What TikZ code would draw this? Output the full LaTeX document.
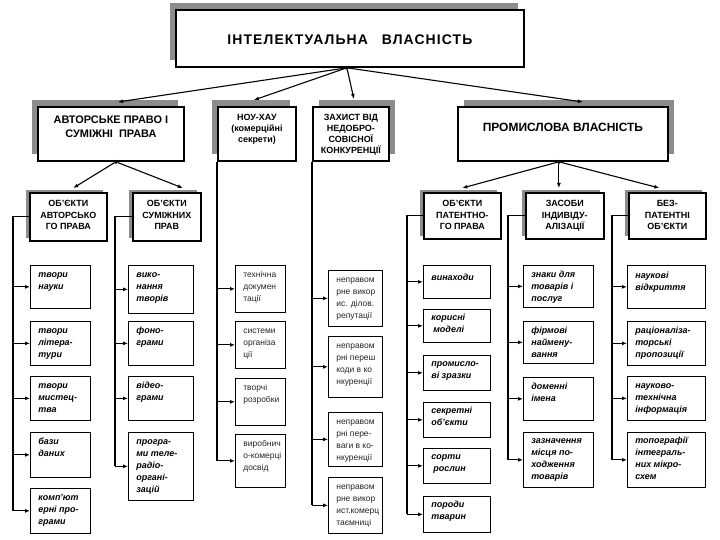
\documentclass[tikz,border=0pt]{standalone}
\usepackage{fontspec}
\setmainfont{Liberation Sans}
\newfontfamily\spacedfont[LetterSpace=8]{Liberation Sans}
\usepackage{tikz}
\usetikzlibrary{positioning,arrows.meta,calc,shadows}
\newcommand{\ctext}[4]{\parbox[t][#2][t]{#1}{\centering\vspace*{#3}\strut#4}}
\newcommand{\ltext}[4]{\parbox[t][#2][t]{#1}{\raggedright\leftskip=8bp\hyphenpenalty=10000\vspace*{#3}\strut#4}}

\begin{document}
\begin{tikzpicture}[x=1bp,y=-1bp,
    every node/.style={inner sep=0pt},
    lshadow/.style={drop shadow={shadow xshift=-6bp,shadow yshift=7bp,fill=black!45,opacity=1}},
    rshadow/.style={drop shadow={shadow xshift=6bp,shadow yshift=7bp,fill=black!45,opacity=1}},
    mainbox/.style={draw, line width=1.8bp, fill=white, anchor=north west,
                    font=\spacedfont\bfseries\fontsize{14}{16}\selectfont, lshadow},
    headbox/.style={draw, line width=1.8bp, fill=white, anchor=north west,
                    font=\bfseries\fontsize{11}{14}\selectfont},
    smallhead/.style={font=\bfseries\fontsize{9}{11}\selectfont},
    subbox/.style={draw, line width=1.6bp, fill=white, anchor=north west,
                   font=\bfseries\fontsize{9}{11.5}\selectfont,
                   drop shadow={shadow xshift=-4bp,shadow yshift=3bp,fill=black!45,opacity=1}},
    leafbf/.style={draw, line width=0.7bp, fill=white, anchor=north west,
                   font=\bfseries\itshape\fontsize{9}{12}\selectfont},
    leafrm/.style={draw, line width=0.7bp, fill=white, anchor=north west,
                   font=\fontsize{8.5}{12}\selectfont, text=black!85},
    junction/.style={circle, fill=black, inner sep=0pt, minimum size=4bp},
    bus/.style={line width=1.2bp},
    arr/.style={-{Latex[length=5bp,width=4bp]}, line width=1.1bp}]
  \useasboundingbox (0,0) rectangle (720,540);
  \node[mainbox] (top) at (175,9) {\ctext{348bp}{57bp}{23bp}{ІНТЕЛЕКТУАЛЬНА\hspace{14bp}ВЛАСНІСТЬ}};
  \node[headbox, lshadow] (auth) at (37,106) {\ctext{146bp}{54bp}{7bp}{АВТОРСЬКЕ ПРАВО І\\СУМІЖНІ \ ПРАВА}};
  \node[headbox, smallhead, lshadow] (know) at (217,106) {\ctext{78bp}{54bp}{6bp}{НОУ-ХАУ\\(комерційні\\секрети)}};
  \node[headbox, smallhead, rshadow] (fair) at (312,106) {\ctext{76bp}{54bp}{6bp}{ЗАХИСТ ВІД\\НЕДОБРО-\\СОВІСНОЇ\\КОНКУРЕНЦІЇ}};
  \node[headbox, rshadow, font=\bfseries\fontsize{12}{14}\selectfont] (ind) at (457,106) {\ctext{210bp}{54bp}{15bp}{ПРОМИСЛОВА ВЛАСНІСТЬ}};
  \node[subbox] (aobj) at (29,192) {\ctext{77bp}{48bp}{6bp}{ОБ’ЄКТИ\\АВТОРСЬКО\\ГО ПРАВА}};
  \node[subbox] (robj) at (132,192) {\ctext{68bp}{48bp}{6bp}{ОБ’ЄКТИ\\СУМІЖНИХ\\ПРАВ}};
  \node[subbox] (pobj) at (423,192) {\ctext{77bp}{46bp}{6bp}{ОБ’ЄКТИ\\ПАТЕНТНО-\\ГО ПРАВА}};
  \node[subbox] (means) at (525,192) {\ctext{78bp}{46bp}{6bp}{ЗАСОБИ\\ІНДИВІДУ-\\АЛІЗАЦІЇ}};
  \node[subbox] (npobj) at (628,192) {\ctext{77bp}{46bp}{6bp}{БЕЗ-\\ПАТЕНТНІ\\ОБ’ЄКТИ}};
  \node[leafbf] (a1) at (30,265) {\ltext{60bp}{43bp}{4bp}{твори\\науки}};
  \node[leafbf] (a2) at (30,321) {\ltext{60bp}{44bp}{4bp}{твори\\літера-\\тури}};
  \node[leafbf] (a3) at (30,376) {\ltext{60bp}{44bp}{4bp}{твори\\мистец-\\тва}};
  \node[leafbf] (a4) at (30,432) {\ltext{60bp}{45bp}{4bp}{бази\\даних}};
  \node[leafbf] (a5) at (30,488) {\ltext{60bp}{45bp}{4bp}{комп’ют\\ерні про-\\грами}};
  \node[leafbf] (b1) at (128,265) {\ltext{65bp}{48bp}{4bp}{вико-\\нання\\творів}};
  \node[leafbf] (b2) at (128,321) {\ltext{65bp}{44bp}{4bp}{фоно-\\грами}};
  \node[leafbf] (b3) at (128,376) {\ltext{65bp}{44bp}{4bp}{відео-\\грами}};
  \node[leafbf] (b4) at (128,432) {\ltext{65bp}{68bp}{4bp}{програ-\\ми теле-\\радіо-\\органі-\\зацій}};
  \node[leafrm] (k1) at (235,265) {\ltext{50bp}{47bp}{4bp}{технічна\\докумен\\тації}};
  \node[leafrm] (k2) at (235,321) {\ltext{50bp}{47bp}{4bp}{системи\\організа\\ції}};
  \node[leafrm] (k3) at (235,378) {\ltext{50bp}{47bp}{4bp}{творчі\\розробки}};
  \node[leafrm] (k4) at (235,434) {\ltext{50bp}{53bp}{4bp}{виробнич\\о-комерці\\досвід}};
  \node[leafrm] (f1) at (328,270) {\ltext{54bp}{56bp}{4bp}{неправом\\рне викор\\ис. ділов.\\репутації}};
  \node[leafrm] (f2) at (328,336) {\ltext{54bp}{61bp}{4bp}{неправом\\рні переш\\коди в ко\\нкуренції}};
  \node[leafrm] (f3) at (328,412) {\ltext{54bp}{54bp}{4bp}{неправом\\рні пере-\\ваги в ко-\\нкуренції}};
  \node[leafrm] (f4) at (328,477) {\ltext{54bp}{56bp}{4bp}{неправом\\рне викор\\ист.комерц\\таємниці}};
  \node[leafbf] (p1) at (423,265) {\ltext{67bp}{33bp}{7bp}{винаходи}};
  \node[leafbf] (p2) at (423,309) {\ltext{67bp}{33bp}{3bp}{корисні\\\hspace*{2bp}моделі}};
  \node[leafbf] (p3) at (423,355) {\ltext{67bp}{35bp}{3bp}{промисло-\\ві зразки}};
  \node[leafbf] (p4) at (423,402) {\ltext{67bp}{35bp}{3bp}{секретні\\об’єкти}};
  \node[leafbf] (p5) at (423,448) {\ltext{67bp}{35bp}{3bp}{сорти\\\hspace*{2bp}рослин}};
  \node[leafbf] (p6) at (423,496) {\ltext{67bp}{36bp}{3bp}{породи\\тварин}};
  \node[leafbf] (m1) at (523,265) {\ltext{70bp}{42bp}{4bp}{знаки для\\товарів і\\послуг}};
  \node[leafbf] (m2) at (523,321) {\ltext{70bp}{42bp}{4bp}{фірмові\\наймену-\\вання}};
  \node[leafbf] (m3) at (523,377) {\ltext{70bp}{43bp}{4bp}{доменні\\імена}};
  \node[leafbf] (m4) at (523,432) {\ltext{70bp}{55bp}{3bp}{зазначення\\місця по-\\ходження\\товарів}};
  \node[leafbf] (n1) at (627,265) {\ltext{78bp}{43bp}{5bp}{наукові\\відкриття}};
  \node[leafbf] (n2) at (627,321) {\ltext{78bp}{44bp}{4bp}{раціоналіза-\\торські\\пропозиції}};
  \node[leafbf] (n3) at (627,376) {\ltext{78bp}{44bp}{4bp}{науково-\\технічна\\інформація}};
  \node[leafbf] (n4) at (627,432) {\ltext{78bp}{55bp}{3bp}{топографії\\інтеграль-\\них мікро-\\схем}};
  \node[junction] (topdot) at ($(top.south)+(-3,0)$) {};
  \node[junction] (authdot) at ($(auth.south)+(5,0)$) {};
  \node[junction] (inddot) at ($(ind.south)+(-4,0)$) {};
  \coordinate (busa) at ($(aobj.west)+(-16,0)$);
  \coordinate (busb) at ($(robj.west)+(-17,0)$);
  \coordinate (busp) at ($(pobj.west)+(-16,0)$);
  \coordinate (busm) at ($(means.west)+(-17,0)$);
  \coordinate (busn) at ($(npobj.west)+(-16,0)$);
  \draw[arr] (topdot) -- ($(auth.north)+(7,-4)$);
  \draw[arr] (topdot) -- ($(know.north)+(-3,-6)$);
  \draw[arr] (topdot) -- ($(fair.north)+(3,-7)$);
  \draw[arr] (topdot) -- ($(ind.north)+(20,-4)$);
  \draw[arr] (authdot) -- ($(aobj.north)+(5,-4)$);
  \draw[arr] (authdot) -- ($(robj.north)+(16,-4)$);
  \draw[arr] (inddot) -- ($(pobj.north)+(0,-4)$);
  \draw[arr] (inddot) -- ($(inddot |- means.north)+(0,-4)$);
  \draw[arr] (inddot) -- ($(npobj.north)+(-8,-4)$);
  \draw[bus] (aobj.west) -- (busa) -- (busa |- a5.west);
  \draw[arr] (busa |- a1.west) -- (a1.west);
  \draw[arr] (busa |- a2.west) -- (a2.west);
  \draw[arr] (busa |- a3.west) -- (a3.west);
  \draw[arr] (busa |- a4.west) -- (a4.west);
  \draw[arr] (busa |- a5.west) -- (a5.west);
  \draw[bus] (robj.west) -- (busb) -- (busb |- b4.west);
  \draw[arr] (busb |- b1.west) -- (b1.west);
  \draw[arr] (busb |- b2.west) -- (b2.west);
  \draw[arr] (busb |- b3.west) -- (b3.west);
  \draw[arr] (busb |- b4.west) -- (b4.west);
  \draw[bus] (know.south west) -- (know.south west |- k4.west);
  \draw[arr] (know.south west |- k1.west) -- (k1.west);
  \draw[arr] (know.south west |- k2.west) -- (k2.west);
  \draw[arr] (know.south west |- k3.west) -- (k3.west);
  \draw[arr] (know.south west |- k4.west) -- (k4.west);
  \draw[bus] (fair.south west) -- (fair.south west |- f4.west);
  \draw[arr] (fair.south west |- f1.west) -- (f1.west);
  \draw[arr] (fair.south west |- f2.west) -- (f2.west);
  \draw[arr] (fair.south west |- f3.west) -- (f3.west);
  \draw[arr] (fair.south west |- f4.west) -- (f4.west);
  \draw[bus] (pobj.west) -- (busp) -- (busp |- p6.west);
  \draw[arr] (busp |- p1.west) -- (p1.west);
  \draw[arr] (busp |- p2.west) -- (p2.west);
  \draw[arr] (busp |- p3.west) -- (p3.west);
  \draw[arr] (busp |- p4.west) -- (p4.west);
  \draw[arr] (busp |- p5.west) -- (p5.west);
  \draw[arr] (busp |- p6.west) -- (p6.west);
  \draw[bus] (means.west) -- (busm) -- (busm |- m4.west);
  \draw[arr] (busm |- m1.west) -- (m1.west);
  \draw[arr] (busm |- m2.west) -- (m2.west);
  \draw[arr] (busm |- m3.west) -- (m3.west);
  \draw[arr] (busm |- m4.west) -- (m4.west);
  \draw[bus] (npobj.west) -- (busn) -- (busn |- n4.west);
  \draw[arr] (busn |- n1.west) -- (n1.west);
  \draw[arr] (busn |- n2.west) -- (n2.west);
  \draw[arr] (busn |- n3.west) -- (n3.west);
  \draw[arr] (busn |- n4.west) -- (n4.west);
\end{tikzpicture}
\end{document}
